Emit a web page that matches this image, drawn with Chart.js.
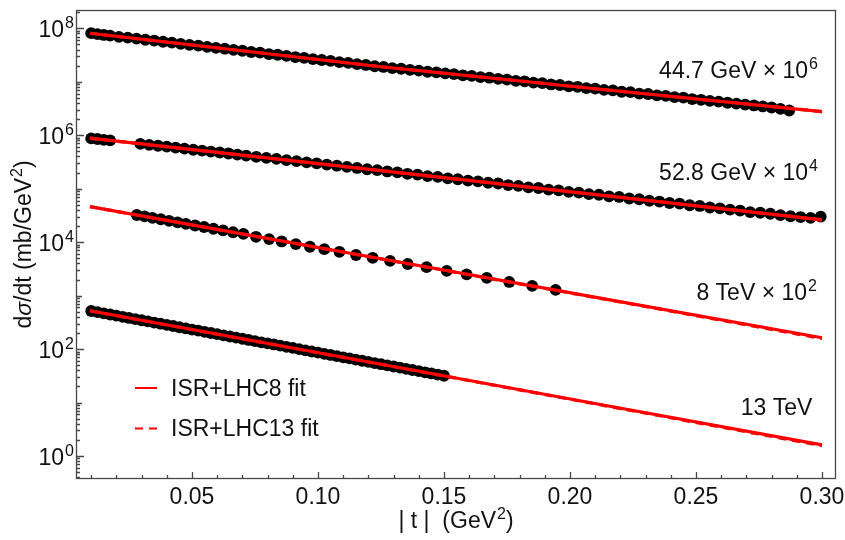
<!DOCTYPE html>
<html>
<head>
<meta charset="utf-8">
<script src="https://cdn.jsdelivr.net/npm/chart.js@4.4.1/dist/chart.umd.min.js"></script>
<style>
  html, body { margin: 0; padding: 0; background: #ffffff; }
  canvas { display: block; }
</style>
</head>
<body>
<canvas id="chart" width="845" height="540"></canvas>
<script>
// ---- measured dσ/dt, |t| in GeV^2, dσ/dt in mb/GeV^2 (scaled as labelled) ----
const t447 = [0.010,0.0125,0.015,0.0175,0.021,0.0245,0.028,0.0315,0.035,0.0385,0.042,0.0455,0.049,0.0525,0.056,0.0595,0.063,0.0665,0.070,0.0735,0.077,0.0805,0.084,0.0875,0.091,0.0945,0.098,0.1015,0.105,0.1085,0.112,0.1155,0.119,0.1225,0.126,0.1295,0.133,0.1365,0.140,0.1435,0.147,0.1505,0.154,0.1575,0.161,0.1645,0.168,0.1715,0.175,0.1785,0.182,0.1855,0.189,0.1925,0.196,0.1995,0.203,0.2065,0.210,0.2135,0.217,0.2205,0.224,0.2275,0.231,0.2345,0.238,0.2415,0.245,0.2485,0.252,0.2555,0.259,0.2625,0.266,0.2695,0.273,0.2765,0.280,0.2835,0.287];
const v447 = [8.1e7,7.8e7,7.5e7,7.3e7,6.9e7,6.7e7,6.4e7,6.1e7,5.9e7,5.6e7,5.4e7,5.1e7,4.9e7,4.75e7,4.5e7,4.3e7,4.15e7,3.95e7,3.8e7,3.6e7,3.5e7,3.3e7,3.2e7,3.05e7,2.9e7,2.8e7,2.65e7,2.55e7,2.45e7,2.33e7,2.25e7,2.13e7,2.06e7,1.95e7,1.89e7,1.8e7,1.75e7,1.67e7,1.62e7,1.54e7,1.5e7,1.43e7,1.39e7,1.32e7,1.29e7,1.22e7,1.19e7,1.13e7,1.1e7,1.04e7,1.02e7,9.6e6,9.4e6,8.9e6,8.7e6,8.2e6,8.05e6,7.6e6,7.45e6,7.05e6,6.9e6,6.5e6,6.4e6,6.0e6,5.9e6,5.55e6,5.45e6,5.15e6,5.05e6,4.75e6,4.6e6,4.4e6,4.25e6,4.05e6,3.9e6,3.75e6,3.6e6,3.45e6,3.3e6,3.1e6,2.9e6];

const t528 = [0.010,0.0125,0.015,0.0175,0.0295,0.033,0.0365,0.040,0.0435,0.047,0.0505,0.054,0.0575,0.061,0.0645,0.068,0.0715,0.0755,0.0795,0.0835,0.0875,0.0915,0.0955,0.0995,0.1035,0.1075,0.1115,0.1155,0.1195,0.1235,0.1275,0.1315,0.1355,0.1395,0.1435,0.1475,0.1515,0.1555,0.1595,0.1635,0.1675,0.1715,0.1755,0.1795,0.1835,0.1875,0.1915,0.1955,0.1995,0.2035,0.2075,0.2115,0.2155,0.2195,0.2235,0.2275,0.2315,0.2355,0.2395,0.2435,0.2475,0.2515,0.2555,0.2595,0.2635,0.2675,0.2715,0.2755,0.2795,0.2835,0.2875,0.2915,0.2955,0.2995];
const v528 = [8.7e5,8.5e5,8.2e5,8.0e5,6.9e5,6.6e5,6.35e5,6.1e5,5.85e5,5.6e5,5.35e5,5.15e5,4.95e5,4.75e5,4.55e5,4.35e5,4.15e5,3.95e5,3.77e5,3.6e5,3.42e5,3.27e5,3.1e5,2.97e5,2.82e5,2.69e5,2.55e5,2.44e5,2.31e5,2.22e5,2.1e5,2.02e5,1.9e5,1.83e5,1.72e5,1.66e5,1.56e5,1.5e5,1.42e5,1.37e5,1.29e5,1.25e5,1.17e5,1.13e5,1.06e5,1.03e5,9.6e4,9.3e4,8.7e4,8.45e4,7.9e4,7.7e4,7.2e4,7.0e4,6.55e4,6.35e4,5.95e4,5.75e4,5.4e4,5.25e4,4.9e4,4.75e4,4.45e4,4.3e4,4.05e4,3.9e4,3.65e4,3.55e4,3.4e4,3.2e4,3.05e4,2.95e4,2.85e4,3.0e4];

const t8 = [0.0281,0.0312,0.0343,0.0376,0.0409,0.0443,0.0476,0.0512,0.0548,0.0585,0.0623,0.0663,0.0704,0.0754,0.0806,0.0856,0.0912,0.0968,0.1025,0.1085,0.1151,0.1217,0.1286,0.1356,0.1431,0.1511,0.1590,0.1670,0.1759,0.1850,0.1943];
const v8 = [3.22e4,3.03e4,2.85e4,2.68e4,2.51e4,2.35e4,2.2e4,2.05e4,1.92e4,1.78e4,1.66e4,1.53e4,1.43e4,1.26e4,1.14e4,1.03e4,9.2e3,8.2e3,7.4e3,6.6e3,5.75e3,5.1e3,4.45e3,3.9e3,3.4e3,2.9e3,2.5e3,2.15e3,1.8e3,1.52e3,1.28e3];

const t13 = [0.010,0.0125,0.015,0.0175,0.020,0.0225,0.025,0.0275,0.030,0.0325,0.035,0.0375,0.040,0.0425,0.045,0.0475,0.050,0.0525,0.055,0.0575,0.060,0.0625,0.065,0.0675,0.070,0.0725,0.075,0.0775,0.080,0.0825,0.085,0.0875,0.090,0.0925,0.095,0.0975,0.100,0.1025,0.105,0.1075,0.110,0.1125,0.115,0.1175,0.120,0.1225,0.125,0.1275,0.130,0.1325,0.135,0.1375,0.140,0.1425,0.145,0.1475,0.150];
const v13 = [515,490,466,443,422,401,382,363,346,329,313,298,283,270,256,244,232,221,210,200,190,181,172,164,156,148,141,134,128,122,116,110,105,99.5,94.7,90.1,85.7,81.6,77.6,73.8,70.2,66.8,63.6,60.5,57.5,54.8,52.1,49.6,47.2,44.9,42.7,40.6,38.6,36.8,35.0,33.3,31.7];

// ---- fitted curves ----
const fitT = [0.0095, 0.125, 0.212, 0.30];
const fit8_447  = [8.07e7, 1.91e7, 7.24e6, 2.76e6];
const fit13_447 = [8.07e7, 1.91e7, 7.24e6, 2.76e6];
const fit8_528  = [8.79e5, 2.17e5, 7.6e4, 2.61e4];
const fit13_528 = [8.79e5, 2.17e5, 7.6e4, 2.61e4];
const fit8_8    = [4.62e4, 4.89e3, 899, 163];
const fit13_8   = [4.62e4, 4.86e3, 888, 157];
const fit8_13   = [520, 52.1, 9.21, 1.62];
const fit13_13  = [520, 51.8, 9.08, 1.56];

const xTickLabels = ['0.05', '0.10', '0.15', '0.20', '0.25', '0.30'];
const yTickExponents = [0, 2, 4, 6, 8];

const seriesLabels = [
  { text: '44.7 GeV \u00d7 10', sup: '6', t: 0.2984, v: 1.18e7 },
  { text: '52.8 GeV \u00d7 10', sup: '4', t: 0.2984, v: 1.46e5 },
  { text: '8 TeV \u00d7 10',    sup: '2', t: 0.2980, v: 834 },
  { text: '13 TeV',             sup: '',  t: 0.2962, v: 5.92 }
];
const legendItems = [
  { text: 'ISR+LHC8 fit',  dash: [] },
  { text: 'ISR+LHC13 fit', dash: [8, 6] }
];

const pts = (ts, vs) => ts.map((t, i) => ({ x: t, y: vs[i] }));

const RED = '#ff0000';
const FONT = '"Liberation Sans", Arial, Helvetica, sans-serif';
const MAIN = '23px ' + FONT;
const SUP = '16px ' + FONT;
const FRAME = '#474747';

function pointSet(ts, vs) {
  return { type: 'scatter', data: pts(ts, vs), backgroundColor: '#000', borderColor: '#000',
           borderWidth: 0, pointRadius: 5.9, pointHoverRadius: 5.9, order: 2 };
}
function fitLine(vs, dash) {
  return { type: 'scatter', data: pts(fitT, vs), showLine: true, borderColor: RED, borderWidth: 3.2,
           borderDash: dash, pointRadius: 0, pointHoverRadius: 0, fill: false, tension: 0,
           order: dash.length ? 0 : 1 };
}

// draw text made of pieces: [string, superscript?, italic?]
function richText(ctx, parts, x, y, align) {
  const fontOf = (sup, it) => (it ? 'italic ' : '') + (sup ? SUP : MAIN);
  let w = 0;
  const widths = parts.map(([s, sup, it]) => {
    ctx.font = fontOf(sup, it);
    const ww = ctx.measureText(s).width + (sup ? 1 : 0);
    w += ww; return ww;
  });
  let cx = align === 'right' ? x - w : align === 'center' ? x - w / 2 : x;
  ctx.textAlign = 'left';
  ctx.textBaseline = 'alphabetic';
  parts.forEach(([s, sup, it], i) => {
    ctx.font = fontOf(sup, it);
    ctx.fillText(s, cx + (sup ? 1 : 0), sup ? y - 9 : y);
    cx += widths[i];
  });
}

const decor = {
  id: 'decor',
  afterDraw(chart) {
    const { ctx, chartArea: a, scales: { x, y } } = chart;
    ctx.save();
    ctx.fillStyle = '#000';
    ctx.strokeStyle = FRAME;
    ctx.lineWidth = 1.3;
    ctx.strokeRect(a.left + 0.5, a.top + 0.5, a.right - a.left - 1, a.bottom - a.top - 1);

    ctx.beginPath();
    // x ticks: major every 0.05, minor every 0.01
    for (let i = 1; i <= 30; i++) {
      const px = Math.round(x.getPixelForValue(i / 100)) + 0.5;
      const len = i % 5 === 0 ? 7 : 4;
      ctx.moveTo(px, a.bottom); ctx.lineTo(px, a.bottom - len);
    }
    // y ticks: decades and 2..9 minors
    for (let e = -1; e <= 8; e++) {
      for (let m = 1; m <= 9; m++) {
        const v = m * Math.pow(10, e);
        if (v < y.min || v > y.max) continue;
        const py = Math.round(y.getPixelForValue(v)) + 0.5;
        const len = m === 1 ? (e % 2 === 0 ? 8 : 6) : 4;
        ctx.moveTo(a.left, py); ctx.lineTo(a.left + len, py);
      }
    }
    ctx.stroke();

    // tick labels
    ctx.fillStyle = '#111';
    xTickLabels.forEach(s => {
      const px = x.getPixelForValue(parseFloat(s));
      richText(ctx, [[s]], px, a.bottom + 24.5, 'center');
    });
    yTickExponents.forEach(e => {
      const py = y.getPixelForValue(Math.pow(10, e));
      richText(ctx, [['10'], [String(e), true]], a.left - 2, py + 9, 'right');
    });

    // axis titles
    richText(ctx, [['| t |  (GeV'], ['2', true], [')']], (a.left + a.right) / 2, 528, 'center');
    ctx.save();
    ctx.translate(31, (a.top + a.bottom) / 2);
    ctx.rotate(-Math.PI / 2);
    richText(ctx, [['d'], ['\u03c3', false, true], ['/dt (mb/GeV'], ['2', true], [')']], 0, 0, 'center');
    ctx.restore();

    // series labels
    seriesLabels.forEach(l => {
      const parts = [[l.text]];
      if (l.sup) parts.push([l.sup, true]);
      richText(ctx, parts, x.getPixelForValue(l.t), y.getPixelForValue(l.v), 'right');
    });

    // legend
    legendItems.forEach((it, i) => {
      const ly = 388 + i * 40.5;
      ctx.strokeStyle = RED;
      ctx.lineWidth = 2;
      ctx.setLineDash(it.dash);
      ctx.beginPath(); ctx.moveTo(135, ly); ctx.lineTo(157, ly); ctx.stroke();
      ctx.setLineDash([]);
      richText(ctx, [[it.text]], 171, ly + 7.5, 'left');
    });
    ctx.restore();
  }
};

new Chart(document.getElementById('chart'), {
  type: 'scatter',
  data: {
    datasets: [
      fitLine(fit13_447, [8, 6]), fitLine(fit8_447, []),
      fitLine(fit13_528, [8, 6]), fitLine(fit8_528, []),
      fitLine(fit13_8, [8, 6]),   fitLine(fit8_8, []),
      fitLine(fit13_13, [8, 6]),  fitLine(fit8_13, []),
      pointSet(t447, v447), pointSet(t528, v528), pointSet(t8, v8), pointSet(t13, v13)
    ]
  },
  options: {
    responsive: false,
    animation: false,
    devicePixelRatio: 1,
    layout: { padding: { left: 76, top: 10, right: 9, bottom: 61 } },
    plugins: { legend: { display: false }, tooltip: { enabled: false } },
    events: [],
    scales: {
      x: { type: 'linear', min: 0.00397, max: 0.30556, bounds: 'data', display: false },
      y: { type: 'logarithmic', min: 0.3715, max: 2.198e8, bounds: 'data', display: false }
    }
  },
  plugins: [decor]
});
</script>
</body>
</html>
